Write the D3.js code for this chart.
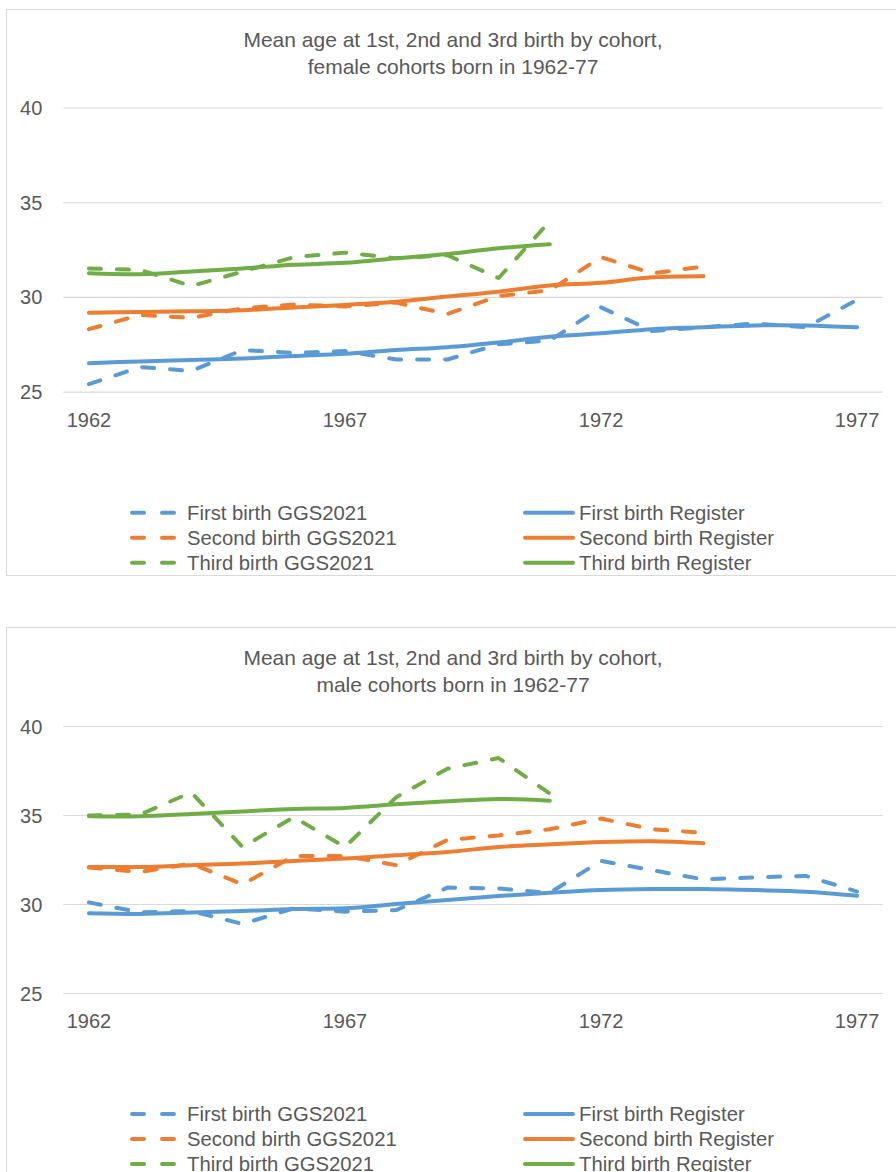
<!DOCTYPE html>
<html>
<head>
<meta charset="utf-8">
<script src="https://cdn.jsdelivr.net/npm/d3@7"></script>
<style>
  body { margin: 0; background: #fff; }
  svg text { font-family: "Liberation Sans", Arial, sans-serif; fill: #595959; }
</style>
</head>
<body>
<div id="chart"></div>
<script>
var years = [1962, 1963, 1964, 1965, 1966, 1967, 1968, 1969, 1970, 1971, 1972, 1973, 1974, 1975, 1976, 1977];
var xTicks = [1962, 1967, 1972, 1977];
var yTicks = [25, 30, 35, 40];

// female cohorts
var femFirstGGS  = [25.4, 26.3, 26.1, 27.2, 27.05, 27.15, 26.7, 26.7, 27.5, 27.7, 29.45, 28.2, 28.4, 28.6, 28.4, 29.85];
var femFirstReg  = [26.5, 26.6, 26.67, 26.75, 26.88, 27.0, 27.2, 27.35, 27.6, 27.9, 28.08, 28.3, 28.4, 28.5, 28.5, 28.4];
var femSecondGGS = [28.3, 29.05, 28.9, 29.4, 29.6, 29.5, 29.7, 29.1, 30.05, 30.35, 32.1, 31.25, 31.6];
var femSecondReg = [29.17, 29.2, 29.24, 29.3, 29.45, 29.58, 29.75, 30.02, 30.28, 30.6, 30.75, 31.04, 31.1];
var femThirdGGS  = [31.5, 31.43, 30.58, 31.34, 32.1, 32.34, 32.04, 32.2, 31.0, 34.0];
var femThirdReg  = [31.25, 31.2, 31.34, 31.5, 31.7, 31.8, 32.04, 32.27, 32.57, 32.78];

// male cohorts
var malFirstGGS  = [30.09, 29.53, 29.6, 28.88, 29.76, 29.57, 29.66, 30.92, 30.87, 30.63, 32.42, 31.9, 31.38, 31.5, 31.58, 30.7];
var malFirstReg  = [29.48, 29.44, 29.52, 29.6, 29.72, 29.76, 30.0, 30.22, 30.45, 30.63, 30.78, 30.84, 30.84, 30.78, 30.69, 30.46];
var malSecondGGS = [32.05, 31.8, 32.27, 31.1, 32.7, 32.7, 32.18, 33.6, 33.85, 34.2, 34.8, 34.2, 34.0];
var malSecondReg = [32.08, 32.08, 32.18, 32.27, 32.42, 32.55, 32.74, 32.92, 33.2, 33.35, 33.48, 33.53, 33.42];
var malThirdGGS  = [34.97, 35.03, 36.27, 33.2, 34.88, 33.2, 36.0, 37.6, 38.2, 36.2];
var malThirdReg  = [34.93, 34.93, 35.06, 35.2, 35.34, 35.4, 35.6, 35.77, 35.9, 35.8];

var legendNames = ["First birth GGS2021", "First birth Register",
                   "Second birth GGS2021", "Second birth Register",
                   "Third birth GGS2021", "Third birth Register"];
var colors = ["#5B9BD5", "#ED7D31", "#70AD47"];

var svg = d3.select("#chart").append("svg")
    .attr("width", 896)
    .attr("height", 1172);

function buildChart(top, plotTop, plotBottom, titleLines, series, boxH){
    var g = svg.append("g");
    g.append("rect")
        .attr("x", 6.5).attr("y", top + 0.5)
        .attr("width", 900).attr("height", boxH)
        .attr("fill", "#fff")
        .attr("stroke", "#D9D9D9");

    titleLines.forEach(function(t, i){
        g.append("text")
            .attr("x", 453).attr("y", top + 38 + i * 26.5)
            .attr("text-anchor", "middle")
            .style("font-size", "21px")
            .text(t);
    });

    var x = d3.scaleBand().domain(years).range([63.3, 882.7]);
    var y = d3.scaleLinear().domain([25, 40]).range([plotBottom, plotTop]);
    var xc = function(d){ return x(d) + x.bandwidth() / 2; };

    // grid
    var yAxis = d3.axisLeft(y).tickValues(yTicks).tickSize(-(882.7 - 63.3)).tickPadding(21);
    var ga = g.append("g").attr("transform", "translate(63.3,0)").call(yAxis);
    ga.select(".domain").remove();
    ga.selectAll("line").attr("stroke", "#D9D9D9").attr("stroke-width", 1.2);
    ga.selectAll("text").style("font-size", "20px").attr("fill", "#595959").attr("dy", "0.35em");

    var xAxis = d3.axisBottom(x).tickValues(xTicks).tickSize(0).tickPadding(21);
    var gx = g.append("g").attr("transform", "translate(0," + plotBottom + ")").call(xAxis);
    gx.select(".domain").remove();
    gx.selectAll("text").style("font-size", "20px").attr("fill", "#595959");

    series.forEach(function(s){
        var line = d3.line()
            .x(function(d, i){ return xc(years[i]); })
            .y(function(d){ return y(d); })
            .curve(s.dash ? d3.curveLinear : d3.curveCatmullRom.alpha(0.5));
        var p = g.append("path")
            .attr("fill", "none")
            .attr("stroke", s.color)
            .attr("stroke-width", 4)
            .attr("stroke-linecap", "round")
            .attr("stroke-linejoin", "round")
            .attr("d", line(s.values));
        if (s.dash) p.attr("stroke-dasharray", "12,16");
    });

    // legend
    var legTop = plotBottom + 121;
    legendNames.forEach(function(name, i){
        var col = i % 2, row = Math.floor(i / 2);
        var ly = legTop + row * 25;
        var lx = col == 0 ? 130 : 523;
        if (col == 0) {
            g.append("line")
                .attr("x1", lx + 2).attr("x2", lx + 48)
                .attr("y1", ly).attr("y2", ly)
                .attr("stroke", colors[row]).attr("stroke-width", 4)
                .attr("stroke-linecap", "round")
                .attr("stroke-dasharray", "12,18");
        } else {
            g.append("line")
                .attr("x1", lx + 2).attr("x2", lx + 50)
                .attr("y1", ly).attr("y2", ly)
                .attr("stroke", colors[row]).attr("stroke-width", 4)
                .attr("stroke-linecap", "round");
        }
        g.append("text")
            .attr("x", col == 0 ? 187 : 579)
            .attr("y", ly)
            .attr("dy", "0.35em")
            .style("font-size", "20.3px")
            .text(name);
    });
}

buildChart(9, 107.5, 391.7,
    ["Mean age at 1st, 2nd and 3rd birth by cohort,", "female cohorts born in 1962-77"],
    [
        {values: femFirstGGS, color: colors[0], dash: true},
        {values: femSecondGGS, color: colors[1], dash: true},
        {values: femThirdGGS, color: colors[2], dash: true},
        {values: femFirstReg, color: colors[0], dash: false},
        {values: femSecondReg, color: colors[1], dash: false},
        {values: femThirdReg, color: colors[2], dash: false}
    ], 566);

buildChart(627, 726, 993,
    ["Mean age at 1st, 2nd and 3rd birth by cohort,", "male cohorts born in 1962-77"],
    [
        {values: malFirstGGS, color: colors[0], dash: true},
        {values: malSecondGGS, color: colors[1], dash: true},
        {values: malThirdGGS, color: colors[2], dash: true},
        {values: malFirstReg, color: colors[0], dash: false},
        {values: malSecondReg, color: colors[1], dash: false},
        {values: malThirdReg, color: colors[2], dash: false}
    ], 600);
</script>
</body>
</html>
